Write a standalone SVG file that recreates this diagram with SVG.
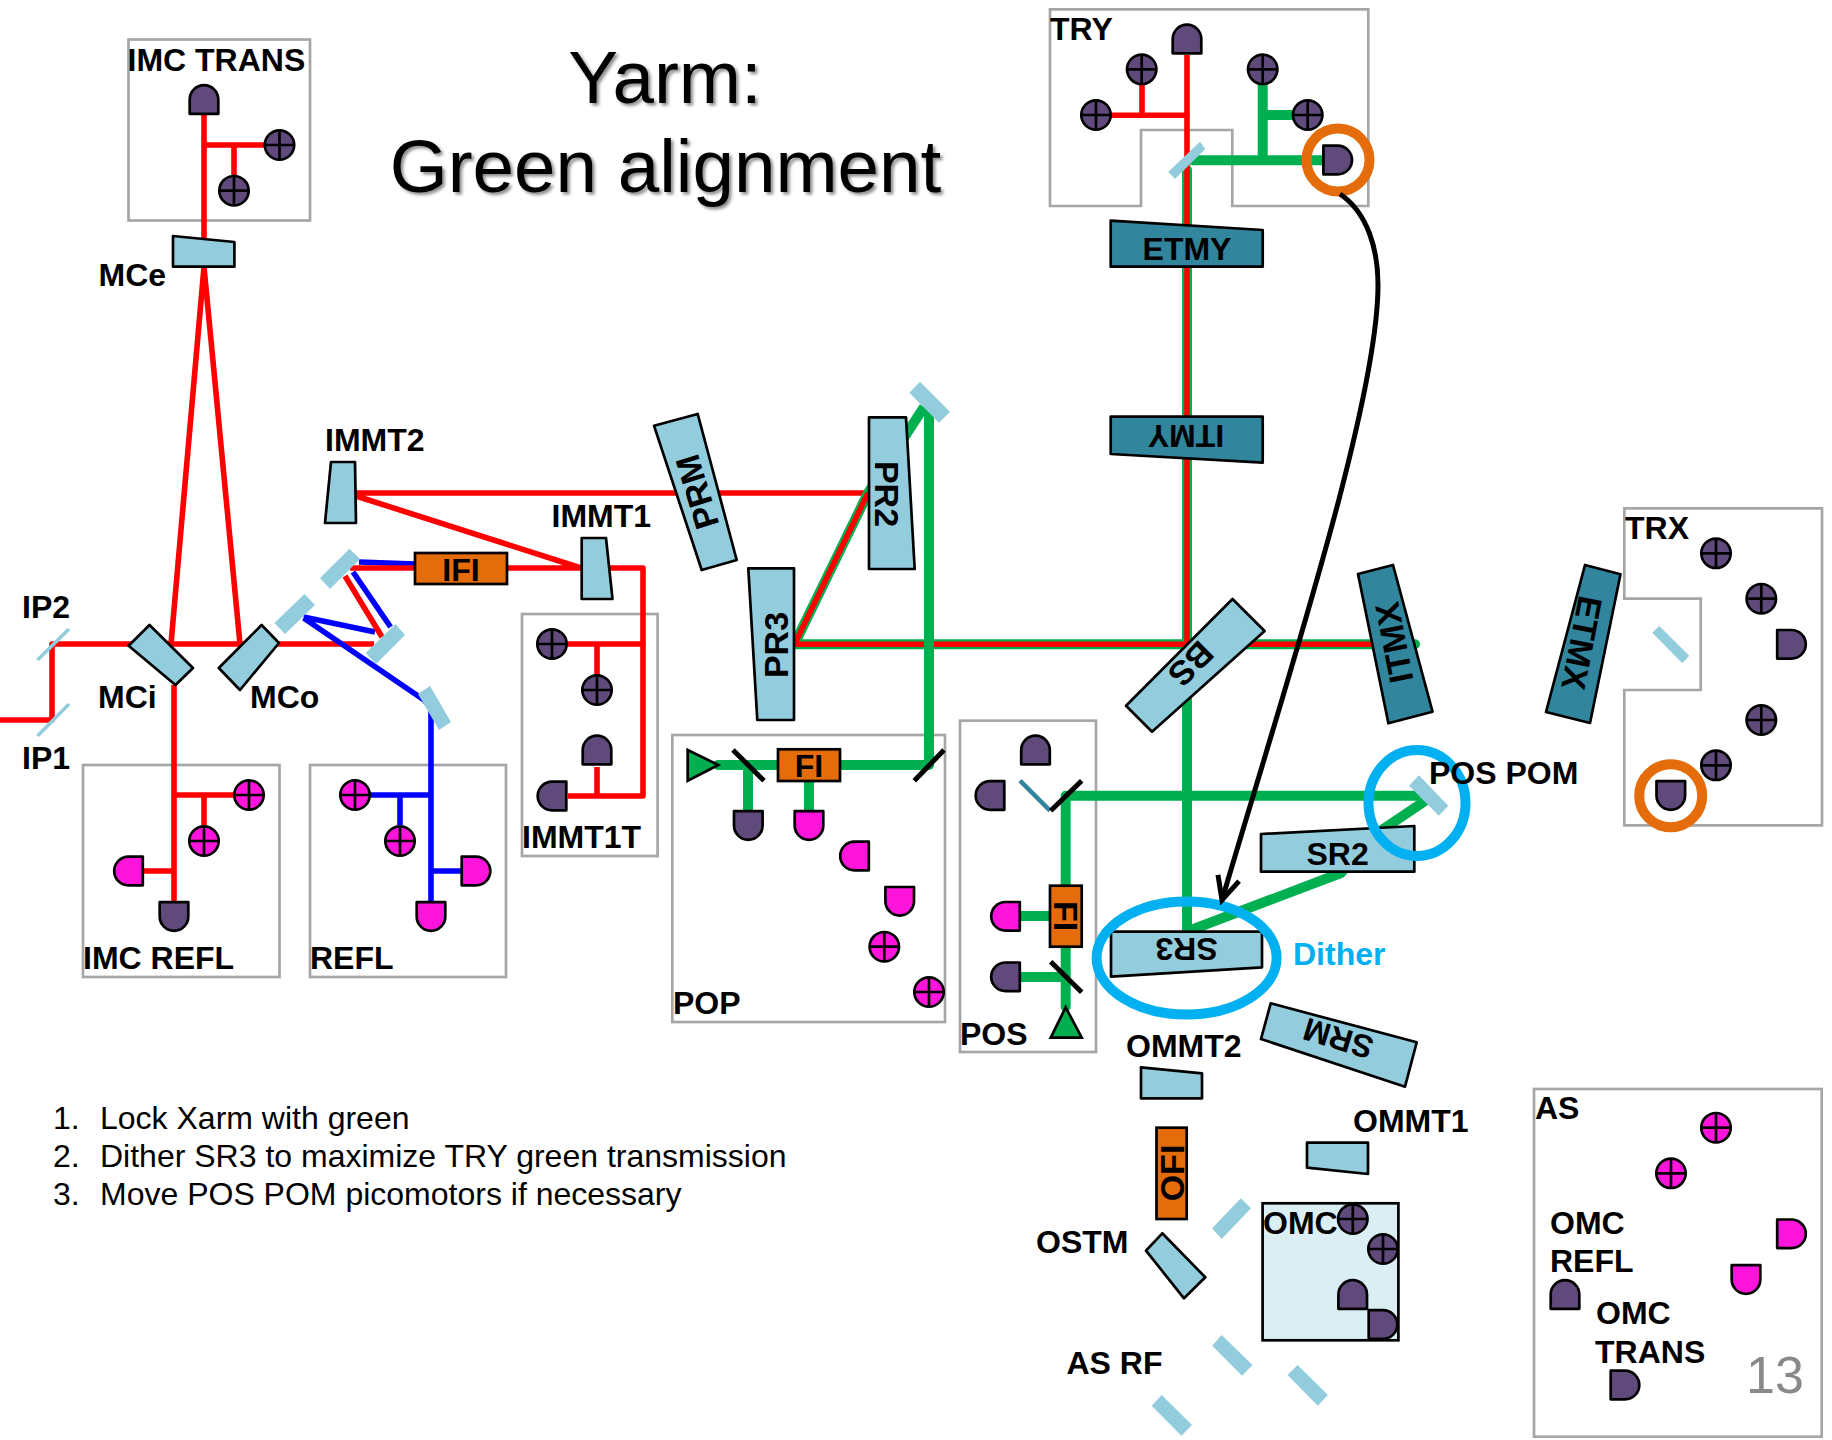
<svg xmlns="http://www.w3.org/2000/svg" width="1832" height="1440" viewBox="0 0 1832 1440">
<style>
text{font-family:"Liberation Sans",Arial,sans-serif;fill:#000}
.l{font-size:32px;font-weight:700}
.v{font-size:34px;font-weight:700}
.c{text-anchor:middle}
.title{font-size:74.6px;text-anchor:middle}
.step{font-size:32px}
.frame{fill:none;stroke:#A6A6A6;stroke-width:2.7}
.mir{fill:#93CDDD;stroke:none}
.opt{fill:#93CDDD;stroke:#000;stroke-width:2.7;stroke-linejoin:round}
.test{fill:#31859C;stroke:#000;stroke-width:2.7;stroke-linejoin:round}
.fi{fill:#E46C0A;stroke:#000;stroke-width:2.7}
.tri{fill:#00B050;stroke:#000;stroke-width:2.7}
.bs{stroke:#000;stroke-width:5;fill:none}
.pu{fill:#604A7B}
.mg{fill:#FF14DC}
.r{fill:none;stroke:#FF0000;stroke-width:5.6;stroke-linejoin:round}
.b{fill:none;stroke:#0000FF;stroke-width:5.6;stroke-linejoin:round}
.g{fill:none;stroke:#00B050;stroke-width:10;stroke-linejoin:round;stroke-linecap:round}
.gn{fill:none;stroke:#00B050;stroke-width:10}
.ring-o{fill:none;stroke:#E46C0A;stroke-width:10}
.ring-b{fill:none;stroke:#00B0F0;stroke-width:10}
</style>
<defs>
<g id="det"><path d="M-14.3,14.3V0a14.3,14.3 0 0 1 28.6,0V14.3Z" stroke="#000" stroke-width="2.7" stroke-linejoin="round"/></g>
<g id="qpd"><circle r="14.7" stroke="#000" stroke-width="2.7"/><path d="M-14.7,0H14.7M0,-14.7V14.7" stroke="#000" stroke-width="2.7"/></g>
<marker id="open" markerUnits="userSpaceOnUse" markerWidth="40" markerHeight="40" refX="30" refY="20" orient="auto" viewBox="0 0 40 40"><path d="M7,9L30,20L7,31" fill="none" stroke="#000" stroke-width="5"/></marker>
<filter id="shadow" x="-10%" y="-20%" width="120%" height="140%"><feDropShadow dx="2.5" dy="2.5" stdDeviation="1.6" flood-color="#000" flood-opacity="0.45"/></filter>
</defs>
<rect width="1832" height="1440" fill="#fff"/>

<g id="title" filter="url(#shadow)"><text class="title" x="665" y="102.7">Yarm:</text><text class="title" x="665.5" y="191.7">Green alignment</text></g>
<g id="steps"><text class="step" x="53" y="1129">1.</text><text class="step" x="100" y="1129">Lock Xarm with green</text><text class="step" x="53" y="1167.3">2.</text><text class="step" x="100" y="1167.3">Dither SR3 to maximize TRY green transmission</text><text class="step" x="53" y="1205">3.</text><text class="step" x="100" y="1205">Move POS POM picomotors if necessary</text></g>

<g id="frame-imc-trans"><rect class="frame" x="128.5" y="39.5" width="181.5" height="181"/></g>
<g id="frame-imc-refl"><rect class="frame" x="83" y="765" width="196.5" height="212"/></g>
<g id="frame-refl"><rect class="frame" x="310" y="765" width="196" height="212"/></g>
<g id="frame-immt1t"><rect class="frame" x="522" y="614" width="135.6" height="242"/></g>
<g id="frame-pop"><rect class="frame" x="672.3" y="735" width="272.7" height="287"/></g>
<g id="frame-pos"><rect class="frame" x="960" y="720.7" width="136" height="331.3"/></g>
<g id="frame-try"><path class="frame" d="M1050,9.3H1368.3V206H1232.3V130H1141V206H1050Z"/></g>
<g id="frame-trx"><path class="frame" d="M1624.3,508.3H1822V825.3H1624.3V690H1700.7V598.7H1624.3Z"/></g>
<g id="frame-as"><rect class="frame" x="1534" y="1089" width="287.7" height="347.7"/></g>

<g id="connectors">
<path class="r" d="M204,115V240M204,145H264M234,145V175"/>
<path class="r" d="M171,644L204,267L240,644"/>
<path class="r" d="M0,720H52V644H374"/>
<path class="r" d="M174,685V901M174,795H234M204,795V825M144,871H174"/>
<path class="b" d="M359,562L415,564M353,572L390.6,627M303.6,617L375,632M303.6,618L424,700L431,708V901M355,795H431M400,795V825M431,871H461"/>
<path class="r" d="M350,568H415M345,576L382,637"/>
<path class="r" d="M355,493H868M356,496L581,568M507,568H643V796H568M568,644H643M597,644V675M597,767V796"/>
<path class="g" d="M795,644.3H1415"/>
<path class="g" d="M795,643L868,493"/>
<path class="g" d="M1187,170V930"/>
<path class="r" d="M795,644.3H1415M795,643L868,493"/>
<path class="r" d="M1187,55V644M1096,115.3H1187M1142,69V115.3"/>
<path class="g" d="M718,765H929V413"/>
<path class="gn" d="M868,493L924,407M748,765V810M809,781V810"/>
<path class="g" d="M1192,160.3H1321.7M1262.7,69V160.3M1262.7,115H1308"/>
<path class="g" d="M1416,795.7H1065.7V1006.7"/>
<path class="gn" d="M1021,916H1050M1021,977H1066"/>
<path class="g" d="M1424,801.7L1376,834L1341,873L1191,930"/>
</g>

<g id="n-imc-trans"><text class="l" x="127.5" y="70.7">IMC TRANS</text><use href="#det" class="pu" transform="translate(204,99.5)"/><use href="#qpd" class="pu" transform="translate(279.5,145)"/><use href="#qpd" class="pu" transform="translate(234,190.7)"/></g>
<g id="n-mce"><polygon class="opt" points="173,236 234.4,242 234.4,266.7 173,266.7"/><text class="l" x="98.5" y="286">MCe</text></g>
<g id="n-immt2"><polygon class="opt" points="331,462 355,462 356,523 325,523"/><text class="l" x="325" y="451">IMMT2</text></g>
<g id="n-immt1"><polygon class="opt" points="581.7,538 606,538 612.5,599 581.7,599"/><text class="l" x="551.5" y="527">IMMT1</text></g>
<g id="n-ip2"><polygon class="mir" points="67.5,628 70.5,630 39,661 36,659"/><text class="l" x="22" y="618">IP2</text></g>
<g id="n-ip1"><polygon class="mir" points="67.5,703 70.5,705 39,737 36,735"/><text class="l" x="22" y="769">IP1</text></g>
<g id="n-mci"><polygon class="opt" points="149.5,625 193,668 175.5,685 128.6,645.7"/><text class="l" x="98" y="708">MCi</text></g>
<g id="n-mco"><polygon class="opt" points="261.6,625 279,643 240,690 218.8,668"/><text class="l" x="250" y="708">MCo</text></g>
<g id="n-mmt-a"><polygon class="mir" points="349.5,548.7 360,559 330,589 320,578"/></g>
<g id="n-mmt-b"><polygon class="mir" points="304.5,594 315,605 285,634 274.5,623"/></g>
<g id="n-mmt-c"><polygon class="mir" points="395.5,624 405,635 376,664 365.6,653"/></g>
<g id="n-mmt-d"><polygon class="mir" points="430,686 451,722 439,730 418,694"/></g>
<g id="n-ifi"><rect class="fi" x="415" y="553" width="92" height="31"/><text class="l c" x="461" y="580.7">IFI</text></g>
<g id="n-imc-refl"><text class="l" x="83" y="969">IMC REFL</text><use href="#qpd" class="mg" transform="translate(249,795)"/><use href="#qpd" class="mg" transform="translate(204,841)"/><use href="#det" class="mg" transform="translate(128.5,871) rotate(-90)"/><use href="#det" class="pu" transform="translate(174,916.5) rotate(180)"/></g>
<g id="n-refl"><text class="l" x="310" y="969">REFL</text><use href="#qpd" class="mg" transform="translate(355,795)"/><use href="#qpd" class="mg" transform="translate(400,841)"/><use href="#det" class="mg" transform="translate(476,871) rotate(90)"/><use href="#det" class="mg" transform="translate(431,916.5) rotate(180)"/></g>
<g id="n-immt1t"><text class="l" x="522" y="848">IMMT1T</text><use href="#qpd" class="pu" transform="translate(552,644)"/><use href="#qpd" class="pu" transform="translate(597,690)"/><use href="#det" class="pu" transform="translate(597,750)"/><use href="#det" class="pu" transform="translate(552,796) rotate(-90)"/></g>
<g id="n-prm"><polygon class="opt" points="654,425.7 697.7,414 736.7,560 701.7,570"/><text class="v c" transform="translate(697,492) rotate(-107)" y="12">PRM</text></g>
<g id="n-pr2"><polygon class="opt" points="869,417.3 906,417.3 914.7,569 869,569"/><text class="v c" transform="translate(887,494) rotate(90)" y="12">PR2</text></g>
<g id="n-pr3"><polygon class="opt" points="748.3,568.3 794,568.3 794,720 757.3,720"/><text class="v c" transform="translate(776,645) rotate(-90)" y="12">PR3</text></g>
<g id="n-top-mirror"><polygon class="mir" points="920,381.7 950,411.7 939,422.7 909.3,392.7"/></g>
<g id="n-pop"><polygon class="tri" points="687.7,750 718.3,765 687.7,780.7"/><path class="bs" d="M733,750L764,780.7M914.3,780.7L944,750"/><rect class="fi" x="778" y="749.3" width="62" height="31.7"/><text class="l c" x="809" y="776.7">FI</text><use href="#det" class="pu" transform="translate(748.3,825.5) rotate(180)"/><use href="#det" class="mg" transform="translate(809,825.5) rotate(180)"/><use href="#det" class="mg" transform="translate(854.5,856) rotate(-90)"/><use href="#det" class="mg" transform="translate(899.7,901.3) rotate(180)"/><use href="#qpd" class="mg" transform="translate(884.3,946.7)"/><use href="#qpd" class="mg" transform="translate(929,992)"/><text class="l" x="673" y="1014">POP</text></g>
<g id="n-pos"><use href="#det" class="pu" transform="translate(1035.5,750)"/><use href="#det" class="pu" transform="translate(990,795.5) rotate(-90)"/><path d="M1020,780.7L1050,810.7" stroke="#31859C" stroke-width="4.5" fill="none"/><path class="bs" d="M1050.7,810.7L1081.7,780.7M1050.7,961.7L1081.7,992.3"/><rect class="fi" x="1050" y="885.7" width="31.7" height="61"/><text class="v c" transform="translate(1066,916) rotate(90)" y="12">FI</text><use href="#det" class="mg" transform="translate(1005.5,916.3) rotate(-90)"/><use href="#det" class="pu" transform="translate(1005.5,976.8) rotate(-90)"/><polygon class="tri" points="1065.7,1007.3 1081.7,1037.7 1050.7,1037.7"/><text class="l" x="960" y="1045">POS</text></g>
<g id="n-try"><text class="l" x="1050" y="39.5">TRY</text><use href="#det" class="pu" transform="translate(1187,39)"/><use href="#qpd" class="pu" transform="translate(1141.7,69.3)"/><use href="#qpd" class="pu" transform="translate(1096,115)"/><use href="#qpd" class="pu" transform="translate(1262.7,69.3)"/><use href="#qpd" class="pu" transform="translate(1307.7,115)"/><polygon class="mir" points="1200,141.7 1205.3,149 1175,179 1168.3,171.7"/><use href="#det" class="pu" transform="translate(1337.7,160) rotate(90)"/><circle class="ring-o" cx="1338" cy="160" r="31.5"/></g>
<g id="n-etmy"><polygon class="test" points="1110.7,220.7 1262.7,230 1262.7,266.7 1110.7,266.7"/><text class="l c" x="1187" y="260">ETMY</text></g>
<g id="n-itmy"><polygon class="test" points="1110.7,416.7 1262.7,416.7 1262.7,462.7 1110.7,454"/><text class="l c" transform="translate(1186,435.5) rotate(180)" y="11">ITMY</text></g>
<g id="n-bs"><polygon class="opt" points="1232.5,599 1264.6,631 1152,731.7 1126,705.7"/><text class="v c" transform="translate(1191,664) rotate(135)" y="12">BS</text></g>
<g id="n-itmx"><polygon class="test" points="1358,574 1393,565 1432.5,711.7 1388.4,723.3"/><text class="v c" transform="translate(1394,642.7) rotate(-101)" y="12">ITMX</text></g>
<g id="n-etmx"><polygon class="test" points="1585,565 1620.5,574.3 1590,723 1546,712"/><text class="v c" transform="translate(1582,643) rotate(101)" y="12">ETMX</text></g>
<g id="n-trx"><text class="l" x="1625" y="539">TRX</text><use href="#qpd" class="pu" transform="translate(1716,553.3)"/><use href="#qpd" class="pu" transform="translate(1761.3,598.7)"/><use href="#qpd" class="pu" transform="translate(1761.3,720)"/><use href="#qpd" class="pu" transform="translate(1716,765.3)"/><polygon class="mir" points="1659.3,626 1689.3,655.7 1682.3,663.3 1652.3,632.7"/><use href="#det" class="pu" transform="translate(1791.5,644.3) rotate(90)"/><use href="#det" class="pu" transform="translate(1670.8,795.5) rotate(180)"/><circle class="ring-o" cx="1670.7" cy="795.7" r="31.5"/></g>
<g id="n-sr2"><polygon class="opt" points="1261,834 1414.3,826 1414.3,871.7 1261,871.7"/><text class="l c" x="1337.6" y="865">SR2</text></g>
<g id="n-sr3"><polygon class="opt" points="1111,931.7 1262,931.7 1262,967.3 1111,976.7"/><text class="l c" transform="translate(1186.5,949) rotate(180)" y="11">SR3</text></g>
<g id="n-pospom"><polygon class="mir" points="1419,775.3 1448.3,805.7 1438.8,815.7 1409,785.7"/><ellipse class="ring-b" cx="1417" cy="803" rx="48.5" ry="53"/><text class="l" x="1429" y="784">POS POM</text></g>
<g id="n-dither"><ellipse class="ring-b" cx="1186.6" cy="958" rx="90" ry="56.5"/><text class="l" x="1293" y="965" style="fill:#00B0F0">Dither</text></g>
<g id="n-srm"><polygon class="opt" points="1270.7,1003.3 1416.7,1042.3 1405,1086.7 1261,1039"/><text class="l c" transform="translate(1338.3,1038.3) rotate(197)" y="11">SRM</text></g>
<g id="n-ommt2"><polygon class="opt" points="1141,1067.3 1202,1073.3 1202,1098.3 1141,1098.3"/><text class="l" x="1126" y="1056.7">OMMT2</text></g>
<g id="n-ommt1"><polygon class="opt" points="1307,1142.7 1368,1142.7 1368,1174 1307,1167.7"/><text class="l" x="1353" y="1132.3">OMMT1</text></g>
<g id="n-ofi"><rect class="fi" x="1156.5" y="1127.7" width="30.2" height="91.3"/><text class="v c" transform="translate(1171.6,1173) rotate(-90)" y="12">OFI</text></g>
<g id="n-ostm"><polygon class="opt" points="1162.3,1233.3 1205.3,1277.3 1184,1298.3 1146,1250.7"/><text class="l" x="1036" y="1253">OSTM</text></g>
<g id="n-as-rf"><text class="l" x="1066.5" y="1374">AS RF</text></g>
<g id="n-as-mirrors"><polygon class="mir" points="1240.8,1198.3 1251,1208.3 1221.7,1239 1212.2,1228.3"/><polygon class="mir" points="1221.7,1335 1252.5,1365 1242,1375.7 1212.2,1345.7"/><polygon class="mir" points="1297.6,1365 1327.9,1395 1317.8,1405.7 1287.5,1375"/><polygon class="mir" points="1161.8,1395 1192,1425 1181.4,1435.7 1151.7,1405.7"/></g>
<g id="n-omc"><rect x="1262.6" y="1203.3" width="135.8" height="137" fill="#DBEEF4" stroke="#000" stroke-width="2.7"/><text class="l" x="1263" y="1234.3">OMC</text><use href="#qpd" class="pu" transform="translate(1352.8,1219)"/><use href="#qpd" class="pu" transform="translate(1383,1249)"/><use href="#det" class="pu" transform="translate(1352.7,1294.5)"/><use href="#det" class="pu" transform="translate(1383,1324.5) rotate(90)"/></g>
<g id="n-as"><text class="l" x="1535" y="1119">AS</text><use href="#qpd" class="mg" transform="translate(1716,1127.7)"/><use href="#qpd" class="mg" transform="translate(1671,1173.3)"/><text class="l" x="1550" y="1234.3">OMC</text><text class="l" x="1550" y="1272.3">REFL</text><use href="#det" class="mg" transform="translate(1791.5,1233.8) rotate(90)"/><use href="#det" class="mg" transform="translate(1746,1279.5) rotate(180)"/><use href="#det" class="pu" transform="translate(1565,1294.5)"/><text class="l" x="1596" y="1324.3">OMC</text><text class="l" x="1595" y="1362.7">TRANS</text><use href="#det" class="pu" transform="translate(1625,1385) rotate(90)"/></g>
<g id="slide-number"><text x="1746" y="1392.7" style="font-size:52px;fill:#898989">13</text></g>
<g id="n-arrow"><path d="M1340,194C1368,213 1378,250 1378,285C1378,400 1290,670 1222,900" fill="none" stroke="#000" stroke-width="5" marker-end="url(#open)"/></g>
</svg>
